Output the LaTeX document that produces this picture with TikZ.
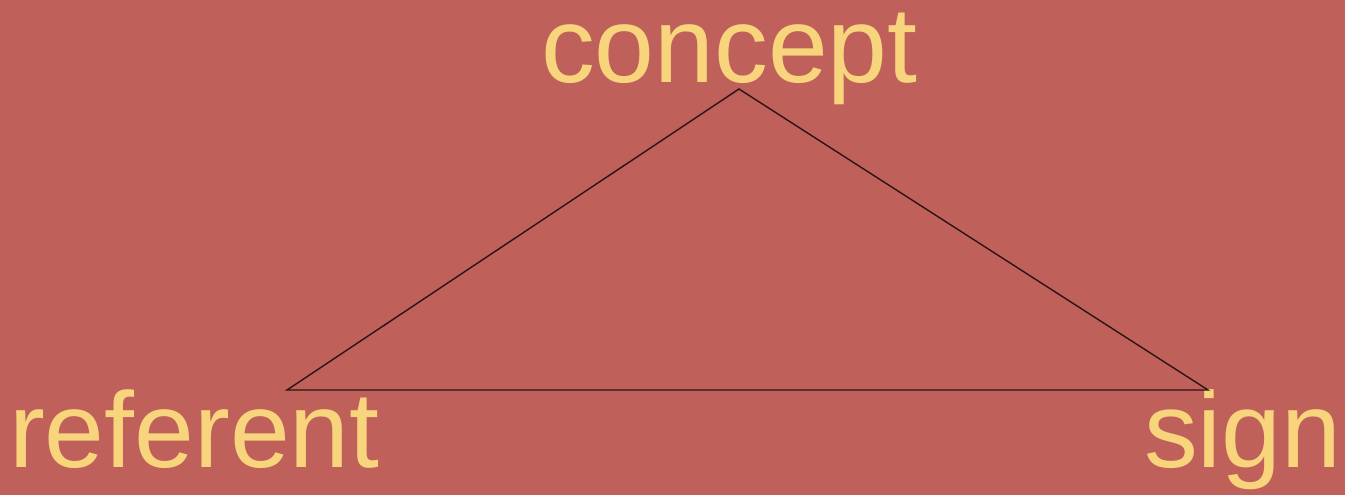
\documentclass[tikz,border=0pt]{standalone}
\usepackage{fontspec}
\setmainfont{Liberation Sans}
\definecolor{bgred}{HTML}{C0605A}
\definecolor{labelyellow}{HTML}{F8D47C}
\definecolor{edgedark}{HTML}{2A1414}
\begin{document}
\begin{tikzpicture}[x=1bp,y=-1bp,
  lbl/.style={anchor=base west,inner sep=0pt,outer sep=0pt,text=labelyellow,
    font=\fontsize{107.5bp}{110bp}\selectfont},
  edge/.style={draw=edgedark,line width=1.4bp,line join=miter}]
\fill[bgred] (0,0) rectangle (1345,495);
\useasboundingbox (0,0) rectangle (1345,495);
\node[lbl] (concept) at (541,83) {concept};
\node[lbl] (referent) at (9,467) {referent};
\node[lbl] (sign) at (1144,467) {sign};
\coordinate (top) at (739,89);
\coordinate (left) at (287,390);
\coordinate (right) at (1208,390);
\draw[edge] (top) -- (right) -- (left) -- cycle;
\end{tikzpicture}
\end{document}
